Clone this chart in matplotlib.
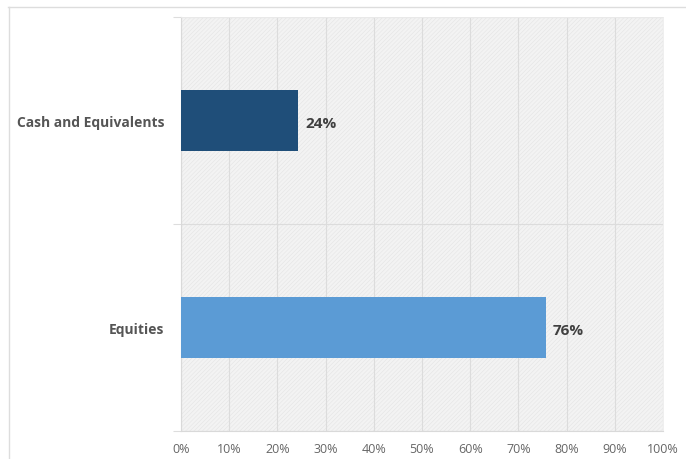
import matplotlib
matplotlib.use('Agg')
import matplotlib.pyplot as plt
from matplotlib.patches import Rectangle
from matplotlib.lines import Line2D

# data (bottom to top)
categories = ['Equities', 'Cash and Equivalents']
shares = [75.7, 24.3]
labels = ['76%', '24%']
colors = ['#5B9BD5', '#1F4E79']
xticks = list(range(0, 101, 10))
xtick_labels = [f'{t}%' for t in xticks]

plt.rcParams['font.family'] = ['Open Sans', 'DejaVu Sans']
plt.rcParams['hatch.linewidth'] = 0.4
plt.rcParams['hatch.color'] = '#e4e4e4'

fig = plt.figure(figsize=(6.86, 4.60), dpi=100)
ax = fig.add_axes([181 / 686, 1 - 432 / 460, 482 / 686, 414 / 460])

# hatched plot background
ax.add_patch(Rectangle((0, 0), 1, 1, transform=ax.transAxes, facecolor='#f3f3f3',
                       edgecolor='#e4e4e4', hatch='////////', linewidth=0, zorder=0))

ypos = list(range(len(categories)))
bars = ax.barh(ypos, shares, height=0.29, color=colors, zorder=3)
for bar, lab in zip(bars, labels):
    ax.annotate(lab, (bar.get_width(), bar.get_y() + bar.get_height() / 2),
                xytext=(5, -2), textcoords='offset points', va='center', ha='left',
                fontsize=11, fontweight='bold', color='#404040')

ax.set_xlim(0, 100)
ax.set_ylim(-0.5, len(categories) - 0.5)
ax.set_xticks(xticks)
ax.set_xticklabels(xtick_labels, fontsize=9, color='#666666')
ax.set_yticks(ypos)
ax.set_yticklabels(categories, fontsize=10, fontweight='bold', color='#555555')
ax.tick_params(axis='x', length=0, pad=8)
ax.tick_params(axis='y', which='major', length=0, pad=12)

# category boundary ticks / gridline
ax.set_yticks([-0.5, 0.5, 1.5], minor=True)
ax.tick_params(axis='y', which='minor', length=6, color='#dddddd', width=0.8)
ax.grid(axis='y', which='minor', color='#dcdcdc', linewidth=0.8, zorder=1)
ax.grid(axis='x', which='major', color='#dcdcdc', linewidth=0.8, zorder=1)
ax.set_axisbelow(True)

for side in ['top', 'right']:
    ax.spines[side].set_color('#ececec')
    ax.spines[side].set_linewidth(0.6)
for side in ['left', 'bottom']:
    ax.spines[side].set_color('#d9d9d9')
    ax.spines[side].set_linewidth(0.8)

# outer light frame
fig.add_artist(Line2D([8 / 686, 1], [1 - 7.5 / 460] * 2, transform=fig.transFigure,
                      color='#dddddd', linewidth=1))
fig.add_artist(Line2D([8.5 / 686] * 2, [0, 1 - 7.5 / 460], transform=fig.transFigure,
                      color='#dddddd', linewidth=1))

fig.savefig('out.png', dpi=100, facecolor='white')
